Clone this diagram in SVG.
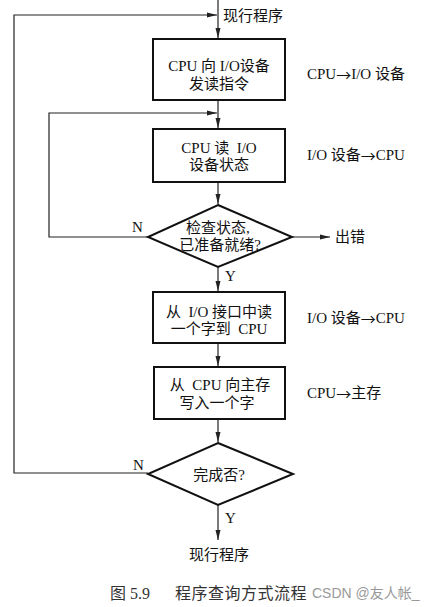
<svg xmlns="http://www.w3.org/2000/svg" width="432" height="607" viewBox="0 0 432 607">
<style>
.box{fill:#fff;stroke:#111;stroke-width:2}
.con{fill:none;stroke:#222;stroke-width:1.2}
text{white-space:pre}
.t{font-family:"Liberation Serif","Noto Sans CJK SC",serif;font-size:15px;fill:#111;text-anchor:middle;dominant-baseline:central}
.side{font-family:"Liberation Serif","Noto Sans CJK SC",serif;font-size:15px;fill:#111;dominant-baseline:central}
.ar{font-family:"Noto Sans CJK SC",sans-serif}
.cap{font-family:"Liberation Serif","Noto Sans CJK SC",serif;font-size:16px;fill:#333;dominant-baseline:central}
.wm{font-family:"Liberation Sans","Noto Sans CJK SC",sans-serif;font-size:14px;fill:#999;dominant-baseline:central}
</style>
<defs>
<marker id="ah" viewBox="0 0 10 6" refX="10" refY="3" markerWidth="10" markerHeight="6" markerUnits="userSpaceOnUse" orient="auto">
<path d="M0,0.5 L10,3 L0,5.5 Z" fill="#222"/>
</marker>
</defs>
<rect width="432" height="607" fill="#fff"/>
<g id="connectors">
<line class="con" x1="218" y1="0" x2="218" y2="38" marker-end="url(#ah)"/>
<polyline class="con" points="148,473 14,473 14,15 217,15" marker-end="url(#ah)"/>
<line class="con" x1="218" y1="100" x2="218" y2="128" marker-end="url(#ah)"/>
<polyline class="con" points="148,237 49,237 49,113 217,113" marker-end="url(#ah)"/>
<line class="con" x1="218" y1="182" x2="218" y2="204" marker-end="url(#ah)"/>
<line class="con" x1="292" y1="237" x2="330" y2="237" marker-end="url(#ah)"/>
<line class="con" x1="218" y1="267" x2="218" y2="291" marker-end="url(#ah)"/>
<line class="con" x1="218" y1="343" x2="218" y2="366" marker-end="url(#ah)"/>
<line class="con" x1="218" y1="419" x2="218" y2="442" marker-end="url(#ah)"/>
<line class="con" x1="218" y1="505" x2="218" y2="540" marker-end="url(#ah)"/>
</g>
<g id="start">
<text class="side" x="223" y="16">现行程序</text>
</g>
<g id="box1">
<rect class="box" x="153" y="39" width="132" height="61"/>
<text class="t" x="219" y="66">CPU 向 I/O设备</text>
<text class="t" x="219" y="84">发读指令</text>
<text class="side" x="307" y="74">CPU<tspan class="ar">→</tspan>I/O 设备</text>
</g>
<g id="box2">
<rect class="box" x="153" y="129" width="132" height="53"/>
<text class="t" x="219" y="148">CPU 读  I/O</text>
<text class="t" x="219" y="165">设备状态</text>
<text class="side" x="307" y="155">I/O 设备<tspan class="ar">→</tspan>CPU</text>
</g>
<g id="dec1">
<polygon class="box" points="218,205 292,237 218,267 148,237"/>
<text class="t" x="218" y="228">检查状态,</text>
<text class="t" x="220" y="245">已准备就绪?</text>
<text class="side" x="132" y="227">N</text>
<text class="side" x="225" y="276">Y</text>
<text class="side" x="335" y="237">出错</text>
</g>
<g id="box3">
<rect class="box" x="153" y="292" width="132" height="51"/>
<text class="t" x="219" y="312">从  I/O 接口中读</text>
<text class="t" x="219" y="329">一个字到  CPU</text>
<text class="side" x="307" y="318">I/O 设备<tspan class="ar">→</tspan>CPU</text>
</g>
<g id="box4">
<rect class="box" x="154" y="367" width="131" height="52"/>
<text class="t" x="220" y="385">从  CPU 向主存</text>
<text class="t" x="217" y="403">写入一个字</text>
<text class="side" x="307" y="393">CPU<tspan class="ar">→</tspan>主存</text>
</g>
<g id="dec2">
<polygon class="box" points="218,443 293,474 218,505 148,474"/>
<text class="t" x="219" y="475">完成否?</text>
<text class="side" x="133" y="465">N</text>
<text class="side" x="225" y="518">Y</text>
</g>
<g id="end">
<text class="t" x="219" y="555">现行程序</text>
</g>
<g id="caption">
<text class="cap" x="110" y="593">图 5.9</text>
<text class="cap" x="175" y="593" letter-spacing="0.5">程序查询方式流程</text>
<text class="wm" x="312" y="593">CSDN @友人帐_</text>
</g>
</svg>
